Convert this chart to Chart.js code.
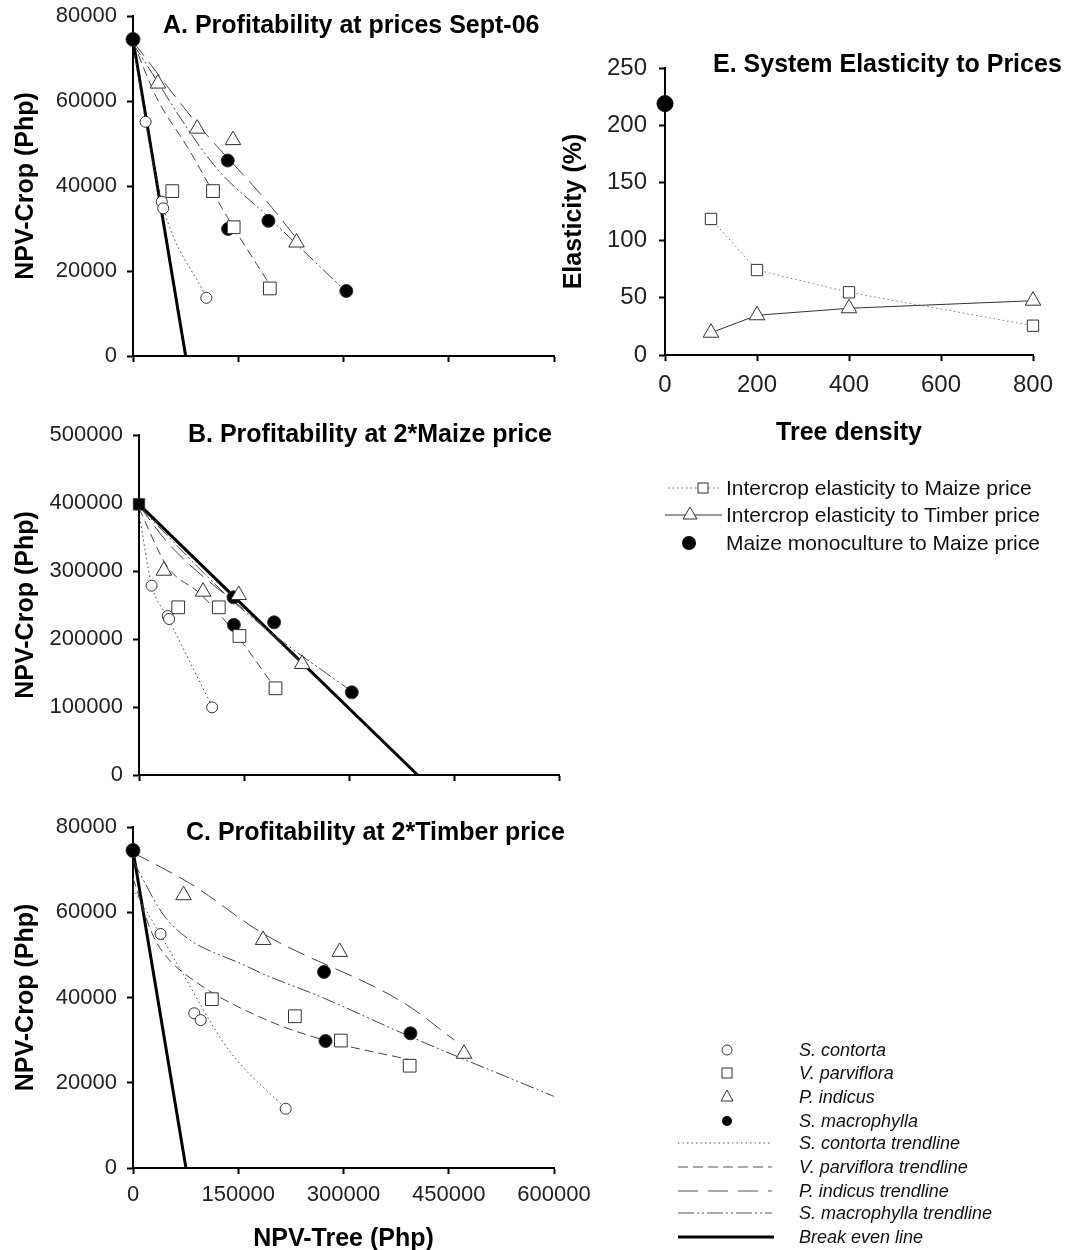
<!DOCTYPE html>
<html>
<head>
<meta charset="utf-8">
<title>NPV trade-offs and price elasticity</title>
<script src="https://cdn.jsdelivr.net/npm/chart.js@4.4.0/dist/chart.umd.min.js"></script>
<style>
  body { margin: 0; background: #fff; width: 1072px; height: 1250px; position: relative; overflow: hidden;
         font-family: "Liberation Sans", Arial, sans-serif; }
  canvas { position: absolute; }
  .ttl { position: absolute; font-weight: bold; font-size: 25px; line-height: 25px; white-space: nowrap; color: #000; }
  .leg { position: absolute; white-space: nowrap; color: #111; }
  .legE { font-size: 21px; line-height: 22px; left: 726px; }
  .legS { font-size: 18px; line-height: 20px; left: 799px; font-style: italic; }
  svg { position: absolute; left: 0; top: 0; }
</style>
</head>
<body>
<canvas id="chartA" width="600" height="380" style="left:0;top:0"></canvas>
<canvas id="chartB" width="600" height="380" style="left:0;top:420px"></canvas>
<canvas id="chartC" width="600" height="440" style="left:0;top:810px"></canvas>
<canvas id="chartE" width="532" height="420" style="left:540px;top:30px"></canvas>

<div class="ttl" style="left:163px;top:12px">A. Profitability at prices Sept-06</div>
<div class="ttl" style="left:188px;top:421px">B. Profitability at 2*Maize price</div>
<div class="ttl" style="left:186px;top:819px">C. Profitability at 2*Timber price</div>
<div class="ttl" style="left:713px;top:51px">E. System Elasticity to Prices</div>

<!-- legend symbols -->
<svg width="1072" height="1250">
  <g fill="none">
    <line x1="668" y1="488" x2="722" y2="488" stroke="#666" stroke-width="1" stroke-dasharray="1.5,3"/>
    <rect x="698" y="483" width="10" height="10" fill="#fff" stroke="#333"/>
    <line x1="665" y1="515" x2="722" y2="515" stroke="#333" stroke-width="1"/>
    <polygon points="690,507 697,519 683,519" fill="#fff" stroke="#333"/>
    <circle cx="689" cy="543" r="7" fill="#000"/>

    <circle cx="727" cy="1050" r="5" fill="#fff" stroke="#333"/>
    <rect x="722" y="1068" width="10" height="10" fill="#fff" stroke="#333"/>
    <polygon points="727,1090 733,1101 721,1101" fill="#fff" stroke="#333"/>
    <circle cx="727" cy="1121" r="5" fill="#000"/>
    <line x1="678" y1="1143" x2="772" y2="1143" stroke="#555" stroke-dasharray="1.5,3"/>
    <line x1="678" y1="1167" x2="772" y2="1167" stroke="#555" stroke-dasharray="10,5"/>
    <line x1="678" y1="1191" x2="772" y2="1191" stroke="#555" stroke-dasharray="20,10"/>
    <line x1="678" y1="1213" x2="772" y2="1213" stroke="#555" stroke-dasharray="16,3,2,3,2,3"/>
    <line x1="678" y1="1237" x2="774" y2="1237" stroke="#000" stroke-width="3"/>
  </g>
</svg>

<div class="leg legE" style="top:477px">Intercrop elasticity to Maize price</div>
<div class="leg legE" style="top:504px">Intercrop elasticity to Timber price</div>
<div class="leg legE" style="top:532px">Maize monoculture to Maize price</div>

<div class="leg legS" style="top:1040px">S. contorta</div>
<div class="leg legS" style="top:1063px">V. parviflora</div>
<div class="leg legS" style="top:1087px">P. indicus</div>
<div class="leg legS" style="top:1111px">S. macrophylla</div>
<div class="leg legS" style="top:1133px">S. contorta trendline</div>
<div class="leg legS" style="top:1157px">V. parviflora trendline</div>
<div class="leg legS" style="top:1181px">P. indicus trendline</div>
<div class="leg legS" style="top:1203px">S. macrophylla trendline</div>
<div class="leg legS" style="top:1227px">Break even line</div>

<script>
// [NPV-Tree, NPV-Crop] pairs, Php

// A. prices of Sept-06
const contortaA    = [[18000, 55100], [41000, 36300], [43000, 34750], [104500, 13700]];
const parvifloraA  = [[56000, 38800], [114000, 38800], [143500, 30300], [195000, 15900]];
const indicusA     = [[35500, 64100], [91500, 53500], [142500, 50800], [233000, 26700]];
const macrophyllaA = [[135000, 46000], [135500, 29900], [193000, 31800], [304000, 15300]];
const monoA        = [[0, 74500]];
const breakEvenA   = [[0, 74500], [75000, 0]];
const contortaTrendA    = [[0, 74000], [18000, 55000], [42000, 35500], [104500, 13800]];
const parvifloraTrendA  = [[0, 74000], [33000, 61000], [80000, 48500], [135000, 32500], [194000, 17000]];
const indicusTrendA     = [[0, 74000], [87000, 55500], [189000, 36700], [231500, 28000]];
const macrophyllaTrendA = [[0, 73500], [115000, 45000], [191000, 33000], [302500, 15300]];

// B. maize price doubled
const contortaB    = [[18000, 278400], [41000, 233800], [43000, 229400], [104500, 99500]];
const parvifloraB  = [[56000, 246600], [114000, 246600], [143500, 204400], [195000, 127500]];
const indicusB     = [[35500, 300400], [91500, 269600], [142500, 264700], [233000, 163200]];
const macrophyllaB = [[135000, 261300], [135500, 220800], [193000, 224500], [304000, 121600]];
const monoB        = [[0, 398000]];
const breakEvenB   = [[0, 398000], [398000, 0]];
const contortaTrendB    = [[0, 385000], [18000, 280000], [41000, 232000], [104700, 100000]];
const parvifloraTrendB  = [[0, 392000], [40800, 306000], [86800, 267000], [137900, 208000], [193000, 130000]];
const indicusTrendB     = [[0, 396000], [46000, 336000], [178700, 218000], [232300, 165000]];
const macrophyllaTrendB = [[0, 395000], [132800, 257000], [194000, 205000], [303800, 123000]];

// C. timber price doubled
const contortaC    = [[39300, 54900], [87300, 36300], [96500, 34700], [217600, 13900]];
const parvifloraC  = [[112400, 39600], [230700, 35600], [296200, 29900], [394300, 24000]];
const indicusC     = [[72000, 64000], [185400, 53500], [294500, 50700], [471800, 26800]];
const macrophyllaC = [[272200, 46000], [274300, 29800], [395400, 31600]];
const monoC        = [[0, 74500]];
const breakEvenC   = [[0, 74500], [75500, 0]];
const contortaTrendC    = [[0, 65500], [39300, 54700], [65400, 47200], [136400, 27700], [217600, 13900]];
const parvifloraTrendC  = [[0, 68000], [27300, 55000], [43600, 50400], [92700, 43300], [190900, 34700], [272700, 30000], [394300, 25400]];
const indicusTrendC     = [[0, 74000], [81800, 66700], [185400, 55000], [387200, 38600], [458100, 30000]];
const macrophyllaTrendC = [[0, 72000], [49100, 58200], [163600, 47200], [272700, 39800], [395400, 30800], [600000, 16800]];

// E. elasticity (%) by tree density
const densities    = [100, 200, 400, 800];
const elastMaize   = [118.5, 74, 54.6, 25.5];
const elastTimber  = [19.4, 34.6, 40.7, 47.3];
const monoElast    = 219;

const pts = arr => arr.map(([x, y]) => ({ x, y }));
const plain = v => String(v);

const tickFont = { family: 'Liberation Sans', size: 22 };
const axisFont = { family: 'Liberation Sans', size: 25, weight: 'bold', lineHeight: 1 };
const axisGrid = { drawOnChartArea: false, drawTicks: true, tickLength: 6, tickColor: '#000', tickWidth: 2 };
const axisBorder = { display: true, color: '#000', width: 2 };

// fixed axis box, no extra label padding so the plot area sits where the layout says
function fixBox(sc, w, h) {
  if (w) sc.width = w;
  if (h) sc.height = h;
  sc.paddingTop = sc.paddingBottom = sc.paddingLeft = sc.paddingRight = 0;
}

function marks(data, style, radius, fill) {
  return {
    data: pts(data), showLine: false, clip: false,
    pointStyle: style, pointRadius: radius, pointBorderWidth: 1,
    pointBorderColor: '#333', pointBackgroundColor: fill, borderColor: '#333'
  };
}

function trend(data, dash, color = '#444', width = 1) {
  return {
    data: pts(data), showLine: true, clip: false, pointRadius: 0,
    borderColor: color, borderWidth: width, borderDash: dash,
    cubicInterpolationMode: 'monotone'
  };
}

function npvPanel(id, s, o) {
  return new Chart(document.getElementById(id), {
    type: 'scatter',
    data: {
      datasets: [
        marks(s.mono, o.monoStyle, o.monoR, '#000'),
        marks(s.contorta, 'circle', 5.5, '#fff'),
        marks(s.parviflora, 'rect', 9, '#fff'),
        marks(s.indicus, 'triangle', 9, '#fff'),
        marks(s.macrophylla, 'circle', 6.5, '#000'),
        trend(s.contortaTrend, [1.5, 3]),
        trend(s.parvifloraTrend, [9, 5]),
        trend(s.indicusTrend, [18, 8]),
        trend(s.macrophyllaTrend, [14, 3, 2, 3, 2, 3]),
        trend(s.breakEven, [], '#000', 3)
      ]
    },
    options: {
      responsive: false,
      animation: false,
      layout: { padding: { left: 0, top: o.top, right: o.right, bottom: 0 } },
      plugins: { legend: { display: false }, tooltip: { enabled: false } },
      scales: {
        x: {
          type: 'linear', min: 0, max: 600000,
          ticks: { display: o.xLabels, stepSize: 150000, font: tickFont, color: '#222', padding: 8, maxRotation: 0, callback: plain },
          grid: axisGrid, border: axisBorder,
          title: { display: o.xLabels, text: 'NPV-Tree (Php)', font: axisFont, color: '#000', padding: { top: 0, bottom: -2 } },
          afterFit: sc => fixBox(sc, 0, o.xh)
        },
        y: {
          type: 'linear', min: 0, max: o.ymax,
          ticks: { stepSize: o.ystep, font: tickFont, color: '#222', padding: 10, callback: plain },
          grid: axisGrid, border: axisBorder,
          title: { display: true, text: 'NPV-Crop (Php)', font: axisFont, color: '#000', padding: { top: 14, bottom: 0 } },
          afterFit: sc => fixBox(sc, o.yw, 0)
        }
      }
    }
  });
}

npvPanel('chartA', {
  mono: monoA, contorta: contortaA, parviflora: parvifloraA, indicus: indicusA, macrophylla: macrophyllaA,
  contortaTrend: contortaTrendA, parvifloraTrend: parvifloraTrendA, indicusTrend: indicusTrendA,
  macrophyllaTrend: macrophyllaTrendA, breakEven: breakEvenA
}, { top: 16, right: 46, yw: 133, xh: 24, ymax: 80000, ystep: 20000, xLabels: false, monoStyle: 'circle', monoR: 7 });

npvPanel('chartB', {
  mono: monoB, contorta: contortaB, parviflora: parvifloraB, indicus: indicusB, macrophylla: macrophyllaB,
  contortaTrend: contortaTrendB, parvifloraTrend: parvifloraTrendB, indicusTrend: indicusTrendB,
  macrophyllaTrend: macrophyllaTrendB, breakEven: breakEvenB
}, { top: 15, right: 41, yw: 139, xh: 25, ymax: 500000, ystep: 100000, xLabels: false, monoStyle: 'rect', monoR: 8 });

npvPanel('chartC', {
  mono: monoC, contorta: contortaC, parviflora: parvifloraC, indicus: indicusC, macrophylla: macrophyllaC,
  contortaTrend: contortaTrendC, parvifloraTrend: parvifloraTrendC, indicusTrend: indicusTrendC,
  macrophyllaTrend: macrophyllaTrendC, breakEven: breakEvenC
}, { top: 17, right: 46, yw: 133, xh: 82, ymax: 80000, ystep: 20000, xLabels: true, monoStyle: 'circle', monoR: 7 });

// E. elasticity panel
const eTickFont = { family: 'Liberation Sans', size: 24 };
new Chart(document.getElementById('chartE'), {
  type: 'scatter',
  data: {
    datasets: [
      {
        data: [{ x: 0, y: monoElast }], clip: false,
        pointStyle: 'circle', pointRadius: 8, pointBackgroundColor: '#000', pointBorderColor: '#000'
      },
      {
        data: densities.map((d, i) => ({ x: d, y: elastMaize[i] })), showLine: true, clip: false,
        borderColor: '#777', borderWidth: 1, borderDash: [1.5, 3],
        pointStyle: 'rect', pointRadius: 8, pointBorderWidth: 1, pointBorderColor: '#333', pointBackgroundColor: '#fff'
      },
      {
        data: densities.map((d, i) => ({ x: d, y: elastTimber[i] })), showLine: true, clip: false,
        borderColor: '#333', borderWidth: 1,
        pointStyle: 'triangle', pointRadius: 9, pointBorderWidth: 1, pointBorderColor: '#333', pointBackgroundColor: '#fff'
      }
    ]
  },
  options: {
    responsive: false,
    animation: false,
    layout: { padding: { left: 0, top: 38, right: 39, bottom: 0 } },
    plugins: { legend: { display: false }, tooltip: { enabled: false } },
    scales: {
      x: {
        type: 'linear', min: 0, max: 800,
        ticks: { stepSize: 200, font: eTickFont, color: '#222', padding: 10, maxRotation: 0 },
        grid: axisGrid, border: axisBorder,
        title: { display: true, text: 'Tree density', font: axisFont, color: '#000', padding: { top: 0, bottom: 4 } },
        afterFit: sc => fixBox(sc, 0, 95)
      },
      y: {
        type: 'linear', min: 0, max: 250,
        ticks: { stepSize: 50, font: eTickFont, color: '#222', padding: 12 },
        grid: axisGrid, border: axisBorder,
        title: { display: true, text: 'Elasticity (%)', font: axisFont, color: '#000', padding: { top: 22, bottom: 0 } },
        afterFit: sc => fixBox(sc, 125, 0)
      }
    }
  }
});
</script>
</body>
</html>
